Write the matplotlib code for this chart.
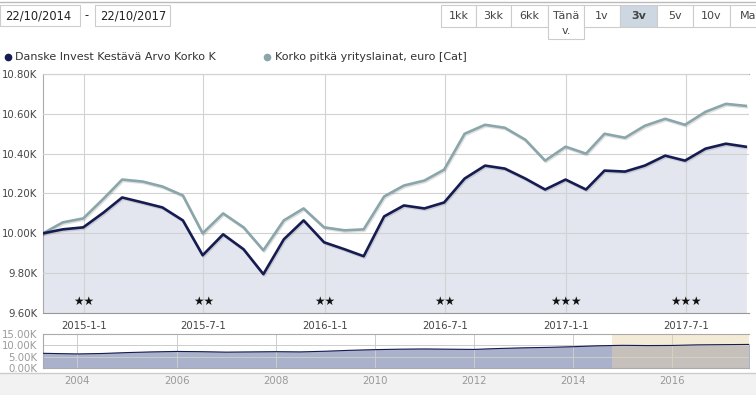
import pandas as pd
import numpy as np
import matplotlib
matplotlib.use("Agg")
import matplotlib.pyplot as plt
import matplotlib.patheffects as pe
from matplotlib.patches import Rectangle

# monthly values (month ends), main chart
fund = [10000, 10020, 10030, 10105, 10180, 10155, 10130, 10065, 9890,
        9995, 9920, 9795, 9970, 10065, 9955, 9920, 9885,
        10085, 10140, 10125, 10155, 10275, 10340, 10325, 10275, 10220,
        10270, 10220, 10315, 10310, 10340, 10390, 10365, 10425, 10450, 10435]
category = [10000, 10055, 10075, 10175, 10270, 10260, 10235, 10190, 10000,
            10100, 10030, 9915, 10065, 10125, 10030, 10015, 10020,
            10185, 10240, 10265, 10320, 10500, 10545, 10530, 10470, 10365,
            10435, 10400, 10500, 10480, 10540, 10575, 10545, 10610, 10650, 10640]
dates = pd.date_range("2014-10-31", periods=len(fund), freq="ME")

tick_dates = pd.to_datetime(["2015-01-01", "2015-07-01", "2016-01-01",
                             "2016-07-01", "2017-01-01", "2017-07-01"])
star_counts = [2, 2, 2, 2, 3, 3]

# navigator (long history)
nav_dates = pd.to_datetime([
    "2003-04-01", "2004-01-01", "2004-07-01", "2005-01-01", "2005-07-01",
    "2006-01-01", "2006-07-01", "2007-01-01", "2007-07-01", "2008-01-01",
    "2008-07-01", "2009-01-01", "2009-07-01", "2010-01-01", "2010-07-01",
    "2011-01-01", "2011-07-01", "2012-01-01", "2012-07-01", "2013-01-01",
    "2013-07-01", "2014-01-01", "2014-07-01", "2015-01-01", "2015-07-01",
    "2016-01-01", "2016-07-01", "2017-01-01", "2017-07-20"])
nav_vals = [6500, 6200, 6400, 6800, 7100, 7300, 7200, 7000, 7100, 7200,
            7100, 7400, 7800, 8100, 8300, 8400, 8300, 8200, 8600, 8900,
            9100, 9400, 9800, 10000, 9900, 9950, 10200, 10300, 10400]

legend_names = ["Danske Invest Kestävä Arvo Korko K",
                "Korko pitkä yrityslainat, euro [Cat]"]
buttons = ["1kk", "3kk", "6kk", "Tänä\nv.", "1v", "3v", "5v", "10v", "Ma"]

dark = "#161c52"
light = "#8aa6ab"
W, H = 756, 395

fig = plt.figure(figsize=(W / 100, H / 100), dpi=100)

# page overlay in pixel coordinates
bg = fig.add_axes([0, 0, 1, 1])
bg.set_xlim(0, W)
bg.set_ylim(H, 0)
bg.axis("off")
bg.plot([0, W], [1.5, 1.5], color="#bbbbbb", lw=1)
for x0, x1, txt in [(0, 80, "22/10/2014"), (95, 170, "22/10/2017")]:
    bg.add_patch(Rectangle((x0, 5), x1 - x0, 21, fc="white", ec="#cccccc", lw=0.8))
    bg.text(x0 + 5, 16, txt, fontsize=8.3, color="#222222", va="center")
bg.text(87, 16, "-", fontsize=8.3, color="#222222", va="center", ha="center")

bx = [441, 476, 511, 548, 584, 620, 657, 693, 730, 766]
for i, lab in enumerate(buttons):
    x0, x1 = bx[i], bx[i + 1]
    h = 34 if "\n" in lab else 22
    fc = "#cdd7e2" if lab == "3v" else "white"
    bg.add_patch(Rectangle((x0, 5), x1 - x0, h, fc=fc, ec="#cccccc", lw=0.8))
    if "\n" in lab:
        a, b = lab.split("\n")
        bg.text((x0 + x1) / 2, 16, a, fontsize=8, color="#444444", ha="center", va="center")
        bg.text((x0 + x1) / 2, 31, b, fontsize=8, color="#444444", ha="center", va="center")
    else:
        bg.text((x0 + x1) / 2, 16, lab, fontsize=8, color="#444444", ha="center", va="center",
                fontweight="bold" if lab == "3v" else "normal")

bg.plot([8], [57], "o", color=dark, ms=4.5)
bg.text(15, 57, legend_names[0], fontsize=8, color="#333333", va="center")
bg.plot([267], [57], "o", color=light, ms=4.5)
bg.text(275, 57, legend_names[1], fontsize=8, color="#333333", va="center")

bg.add_patch(Rectangle((0, 373), W, 22, fc="#f2f2f2", ec="none"))
bg.plot([0, W], [372.5, 372.5], color="#cccccc", lw=1)

# main chart
ax = fig.add_axes([43 / W, 1 - 313 / H, 706 / W, 239 / H])
ax.set_facecolor("none")
ax.fill_between(dates, fund, 9600, color="#e3e6ef", zorder=1)
shadow = [pe.SimpleLineShadow(offset=(0.7, -1), alpha=0.12), pe.Normal()]
ax.plot(dates, category, color=light, lw=1.9, path_effects=shadow, zorder=3)
ax.plot(dates, fund, color=dark, lw=1.9, path_effects=shadow, zorder=4)

ax.set_xlim(pd.Timestamp("2014-10-31"), pd.Timestamp("2017-10-05"))
ax.set_ylim(9600, 10800)
ax.set_yticks(np.arange(9600, 10801, 200))
ax.set_yticklabels([f"{v / 1000:.2f}K" for v in np.arange(9600, 10801, 200)])
ax.set_xticks(tick_dates)
ax.set_xticklabels([f"{d.year}-{d.month}-{d.day}" for d in tick_dates])
ax.tick_params(length=0, labelsize=7.3, labelcolor="#444444", pad=6)
ax.tick_params(axis="y", pad=4)
ax.grid(True, color="#d2d2d2", lw=0.8, zorder=2)
ax.set_axisbelow(False)
for line in ax.get_xgridlines() + ax.get_ygridlines():
    line.set_zorder(2)
ax.spines["right"].set_visible(False)
for s in ["left", "top", "bottom"]:
    ax.spines[s].set_color("#aaaaaa")
ax.spines["bottom"].set_color("#999999")

for d, n in zip(tick_dates, star_counts):
    ax.text(d, 9658, "★" * n, fontsize=8.5, ha="center", va="center", color="#111111", zorder=5)

# navigator
nav = fig.add_axes([43 / W, 1 - 368 / H, 706 / W, 34 / H])
nav.fill_between(nav_dates, nav_vals, 0, color="#aab1cb", zorder=1)
nav.plot(nav_dates, nav_vals, color=dark, lw=0.8, zorder=3)
nav.axvspan(pd.Timestamp("2014-10-16"), pd.Timestamp("2017-07-20"),
            color="#e8d3a8", alpha=0.45, zorder=2, lw=0)
nav.set_xlim(pd.Timestamp("2003-04-22"), pd.Timestamp("2017-07-20"))
nav.set_ylim(0, 15000)
nav.set_yticks([0, 5000, 10000, 15000])
nav.set_yticklabels(["0.00K", "5.00K", "10.00K", "15.00K"])
yrs = pd.to_datetime([f"{y}-01-01" for y in range(2004, 2017, 2)])
nav.set_xticks(yrs)
nav.set_xticklabels([str(d.year) for d in yrs])
nav.tick_params(length=0, labelsize=7.3, labelcolor="#999999")
nav.tick_params(axis="x", pad=6)
nav.tick_params(axis="y", pad=4)
nav.grid(True, color="#cccccc", lw=0.7)
for line in nav.get_xgridlines() + nav.get_ygridlines():
    line.set_zorder(2.5)
nav.spines["right"].set_visible(False)
for s in ["left", "top", "bottom"]:
    nav.spines[s].set_color("#aaaaaa")

fig.savefig("out.png", dpi=100)
